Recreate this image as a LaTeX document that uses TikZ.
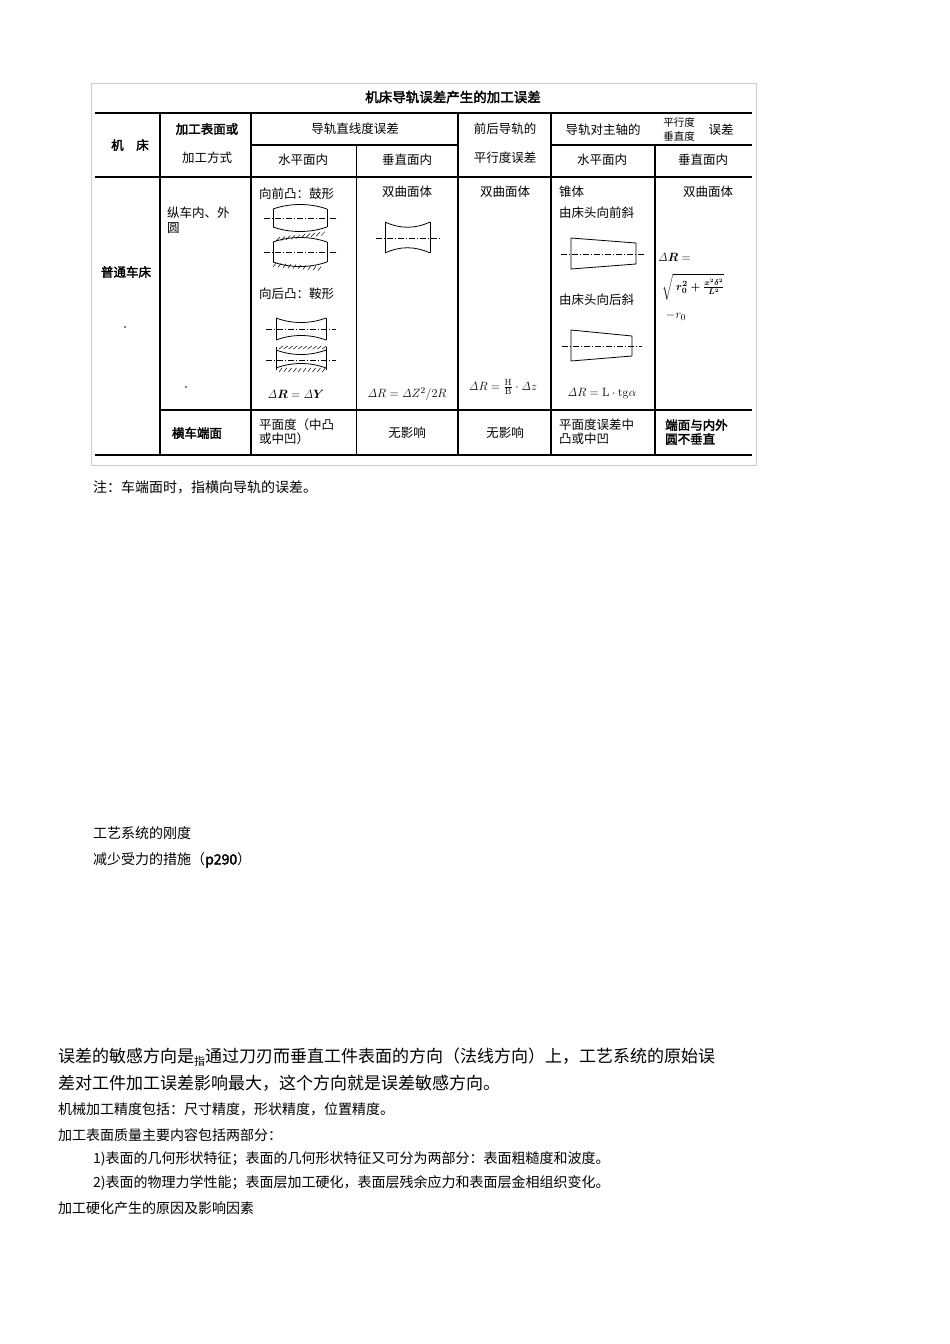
\documentclass[tikz,border=0pt]{standalone}
\usepackage{amsmath}
\usepackage[no-math]{fontspec}
\setmainfont{Noto Sans CJK SC}[AutoFakeBold=2.5]
\begin{document}
\begin{tikzpicture}[x=1pt,y=-1pt,
  tl/.style={line width=1.1pt},
  tt/.style={font=\fontsize{12.5}{13}\selectfont\bfseries, inner sep=0pt},
  ts/.style={font=\fontsize{12.5}{13}\selectfont, inner sep=0pt},
  doc/.style={font=\fontsize{14}{16}\selectfont, inner sep=0pt, anchor=west},
  big/.style={font=\fontsize{17}{19}\selectfont, inner sep=0pt, anchor=west},
  cl/.style={line width=0.5pt, dash pattern=on 6pt off 2pt on 1pt off 2pt},
  sh/.style={line width=0.8pt}]
\useasboundingbox (0,0) rectangle (950,1344);
\draw[gray!40] (91,83) rectangle (756,465);
\node[tt,font=\fontsize{13.5}{14}\selectfont\bfseries] (title) at (453,97) {机床导轨误差产生的加工误差};
% lines
\draw[tl] (95,113) -- (752,113);
\draw[tl] (251,145) -- (458,145) (551,145) -- (752,145);
\draw[tl] (95,177) -- (752,177);
\draw[tl] (160,410) -- (752,410);
\draw[tl] (95,455) -- (752,455);
\draw[tl] (160,113) -- (160,455);
\draw[tl] (251,113) -- (251,455);
\draw[tl] (458,113) -- (458,455);
\draw[tl] (551,113) -- (551,455);
\draw[tl] (655,145) -- (655,455);
\draw[line width=0.6pt] (356,145) -- (356,455);
% header
\node[tt] (h1) at (130,145) {机\quad 床};
\node[tt] (h2) at (207,129) {加工表面或};
\node[ts] (h3) at (207,158) {加工方式};
\node[ts] (h4) at (355,129) {导轨直线度误差};
\node[ts] (h5) at (505,129) {前后导轨的};
\node[ts] (h6) at (505,158) {平行度误差};
\node[ts] (h7) at (603,130) {导轨对主轴的};
\node[ts,font=\fontsize{10.5}{10}\selectfont] (h8) at (679,122) {平行度};
\node[ts,font=\fontsize{10.5}{10}\selectfont] (h9) at (679,136) {垂直度};
\node[ts] (h10) at (721,130) {误差};
\node[ts] (h11) at (303,160) {水平面内};
\node[ts] (h12) at (407,160) {垂直面内};
\node[ts] (h13) at (602,160) {水平面内};
\node[ts] (h14) at (703,160) {垂直面内};
% body text
\node[ts,anchor=west] (b1) at (167,213) {纵车内、外};
\node[ts,anchor=west] (b2) at (167,228) {圆};
\node[tt] (b3) at (126,272) {普通车床};
\node[ts,anchor=west] (b4) at (259,194) {向前凸：鼓形};
\node[ts] (b5) at (407,192) {双曲面体};
\node[ts] (b6) at (505,192) {双曲面体};
\node[ts,anchor=west] (b7) at (559,192) {锥体};
\node[ts,anchor=west] (b8) at (559,213) {由床头向前斜};
\node[ts] (b9) at (708,192) {双曲面体};
\node[ts,anchor=west] (b10) at (259,294) {向后凸：鞍形};
\node[ts,anchor=west] (b11) at (559,300) {由床头向后斜};
\node[ts,anchor=west] (f0) at (658,257) {$\mathit{\Delta}\boldsymbol{R}=$};
\node[ts,anchor=west,font=\fontsize{11}{12}\selectfont] (f1) at (662,287) {$\sqrt{\vphantom{\Big|}\;\boldsymbol{r_0^2+\frac{x^2\delta^2}{L^2}}}$};
\node[ts,anchor=west] (f2) at (666,316) {$-r_0$};
\node[ts] (f3) at (296,394) {$\mathit{\Delta}\boldsymbol{R}=\mathit{\Delta}\boldsymbol{Y}$};
\node[ts] (f4) at (407,394) {$\mathit{\Delta}R=\mathit{\Delta}Z^2/2R$};
\node[ts] (f5) at (503,387) {$\mathit{\Delta}R=\frac{\mathrm{H}}{\mathrm{B}}\cdot\mathit{\Delta}z$};
\node[ts] (f6) at (602,394) {$\mathit{\Delta}R=\mathrm{L}\cdot\mathrm{tg}\alpha$};
\node[tt] (c1) at (197,433) {横车端面};
\node[ts,anchor=west] (c2) at (259,425) {平面度（中凸};
\node[ts,anchor=west] (c3) at (259,439) {或中凹）};
\node[ts] (c4) at (407,433) {无影响};
\node[ts] (c5) at (505,433) {无影响};
\node[ts,anchor=west] (c6) at (559,425) {平面度误差中};
\node[ts,anchor=west] (c7) at (559,439) {凸或中凹};
\node[tt,anchor=west] (c8) at (665,425) {端面与内外};
\node[tt,anchor=west] (c9) at (665,439) {圆不垂直};
% drum
\draw[sh] (273,209) -- (273,227) (327,209) -- (327,227);
\draw[sh] (273,209) .. controls (290,203) and (310,203) .. (327,209);
\draw[sh] (273,227) .. controls (290,233) and (310,233) .. (327,227);
\draw[cl] (264,218) -- (338,218);
\draw[sh] (273,242) -- (273,262) (327,242) -- (327,262);
\draw[sh] (273,242) .. controls (290,236) and (310,236) .. (327,242);
\draw[sh] (273,262) .. controls (290,268) and (310,268) .. (327,262);
\foreach \i in {0,...,9}{\draw[line width=0.5pt] (276+5*\i,241-0.6*\i) -- +(4,-4);}
\foreach \i in {0,...,9}{\draw[line width=0.5pt] (276+5*\i,263+0.4*\i) -- +(-3,4);}
\draw[cl] (264,252) -- (338,252);
% saddle
\draw[sh] (276,318) -- (276,340) (326,318) -- (326,340);
\draw[sh] (276,318) .. controls (292,324) and (310,324) .. (326,318);
\draw[sh] (276,340) .. controls (292,334) and (310,334) .. (326,340);
\draw[cl] (266,329) -- (336,329);
\draw[sh] (276,347) -- (276,370) (326,347) -- (326,370);
\draw[sh] (276,350) .. controls (292,356) and (310,356) .. (326,350);
\draw[sh] (276,368) .. controls (292,362) and (310,362) .. (326,368);
\foreach \i in {0,...,9}{\draw[line width=0.5pt] (279+4.8*\i,349) -- +(4,-3);}
\foreach \i in {0,...,9}{\draw[line width=0.5pt] (279+4.8*\i,372) -- +(3,-4);}
\draw[cl] (266,360) -- (336,360);
% hyperboloid
\draw[sh] (385,222) -- (385,253) (430,222) -- (430,253);
\draw[sh] (385,222) .. controls (400,229) and (415,229) .. (430,222);
\draw[sh] (385,253) .. controls (400,246) and (415,246) .. (430,253);
\draw[cl] (376,238) -- (440,238);
% cones
\draw[sh] (571,238) -- (636,243) -- (636,264) -- (571,269) -- cycle;
\draw[cl] (561,254) -- (646,254);
\draw[sh] (571,330) -- (632,336) -- (632,356) -- (571,361) -- cycle;
\draw[cl] (562,346) -- (642,346);
\fill (125,327) circle (0.8);
\fill (186,387) circle (0.8);
% notes
\node[doc] (n1) at (93,487) {注：车端面时，指横向导轨的误差。};
\node[doc] (n2) at (93,833) {工艺系统的刚度};
\node[doc] (n3) at (93,860) {减少受力的措施（\textbf{p290}）};
\node[big] (p1) at (58,1057) {误差的敏感方向是{\fontsize{11}{11}\selectfont\raisebox{-3pt}{指}}通过刀刃而垂直工件表面的方向（法线方向）上，工艺系统的原始误};
\node[big] (p2) at (58,1083) {差对工件加工误差影响最大，这个方向就是误差敏感方向。};
\node[doc] (p3) at (58,1109) {机械加工精度包括：尺寸精度，形状精度，位置精度。};
\node[doc] (p4) at (58,1135) {加工表面质量主要内容包括两部分：};
\node[doc] (p5) at (93,1159) {1)表面的几何形状特征；表面的几何形状特征又可分为两部分：表面粗糙度和波度。};
\node[doc] (p6) at (93,1183) {2)表面的物理力学性能；表面层加工硬化，表面层残余应力和表面层金相组织变化。};
\node[doc] (p7) at (58,1208) {加工硬化产生的原因及影响因素};
\end{tikzpicture}
\end{document}
